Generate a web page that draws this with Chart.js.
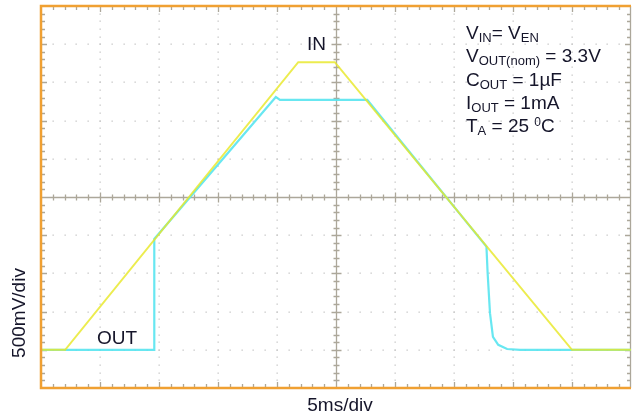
<!DOCTYPE html>
<html>
<head>
<meta charset="utf-8">
<script src="https://cdn.jsdelivr.net/npm/chart.js@4/dist/chart.umd.min.js"></script>
<style>
  html, body { margin:0; padding:0; background:#fff; }
  #wrap { width:632px; height:419px; }
</style>
</head>
<body>
<div id="wrap"><canvas id="scope" width="632" height="419"></canvas></div>
<script>
// scope trace, x in ms-divisions (0..10), y in 500mV divisions (0..10)
var inX  = [0, 0.41, 4.36, 4.98, 9.0, 10];
var inY  = [1, 1, 8.53, 8.53, 1, 1];
var outX = [0, 1.92, 1.92, 3.98, 4.05, 5.53, 7.55, 7.57, 7.61, 7.66, 7.75, 7.90, 8.12, 10];
var outY = [1, 1, 3.9, 7.62, 7.54, 7.54, 3.70, 3.01, 1.96, 1.34, 1.13, 1.02, 1.0, 1.0];
var xDivs = 10, yDivs = 10, minorPerDiv = 5;
var inLabel = 'IN', outLabel = 'OUT';
var xAxisLabel = '5ms/div', yAxisLabel = '500mV/div';
// condition text lines: [text, 'n' normal | 's' subscript | 'p' superscript]
var notes = [
  [['V','n'],['IN','s'],['= V','n'],['EN','s']],
  [['V','n'],['OUT(nom)','s'],[' = 3.3V','n']],
  [['C','n'],['OUT','s'],[' = 1\u00b5F','n']],
  [['I','n'],['OUT','s'],[' = 1mA','n']],
  [['T','n'],['A','s'],[' = 25 ','n'],['0','p'],['C','n']]
];

function pts(xs, ys){
  return xs.map(function(v, i){ return {x: v, y: ys[i]}; });
}

var FONT = '"Liberation Sans", Arial, sans-serif';
var TXT = '#15152a';

var scopeGrid = {
  id: 'scopeGrid',
  beforeDatasetsDraw: function(chart){
    var ctx = chart.ctx, a = chart.chartArea, x = chart.scales.x, y = chart.scales.y;
    var i, j, px, py;
    ctx.save();
    // dotted graticule
    ctx.fillStyle = '#c6c6c6';
    for(i = 1; i < xDivs; i++){
      if(i === xDivs/2) continue;
      px = Math.round(x.getPixelForValue(i));
      for(j = 1; j < yDivs*minorPerDiv; j++){
        py = Math.round(y.getPixelForValue(j/minorPerDiv));
        ctx.fillRect(px-0.5, py-0.5, 1.3, 1.3);
      }
    }
    for(i = 1; i < yDivs; i++){
      if(i === yDivs/2) continue;
      py = Math.round(y.getPixelForValue(i));
      for(j = 1; j < xDivs*minorPerDiv; j++){
        px = Math.round(x.getPixelForValue(j/minorPerDiv));
        ctx.fillRect(px-0.5, py-0.5, 1.3, 1.3);
      }
    }
    // centre lines with minor ticks
    var cx = Math.round(x.getPixelForValue(xDivs/2)) + 0.5;
    var cy = Math.round(y.getPixelForValue(yDivs/2)) + 0.5;
    ctx.strokeStyle = '#aca79a';
    ctx.lineWidth = 1.3;
    ctx.beginPath();
    ctx.moveTo(a.left, cy); ctx.lineTo(a.right, cy);
    ctx.moveTo(cx, a.top); ctx.lineTo(cx, a.bottom);
    for(j = 1; j < xDivs*minorPerDiv; j++){
      px = Math.round(x.getPixelForValue(j/minorPerDiv)) + 0.5;
      var l = (j % minorPerDiv === 0) ? 5 : 3;
      ctx.moveTo(px, cy-l); ctx.lineTo(px, cy+l);
      // top and bottom edge ticks
      ctx.moveTo(px, a.top); ctx.lineTo(px, a.top+l+1);
      ctx.moveTo(px, a.bottom); ctx.lineTo(px, a.bottom-l-1);
    }
    for(j = 1; j < yDivs*minorPerDiv; j++){
      py = Math.round(y.getPixelForValue(j/minorPerDiv)) + 0.5;
      var m = (j % minorPerDiv === 0) ? 5 : 3;
      ctx.moveTo(cx-m, py); ctx.lineTo(cx+m, py);
      ctx.moveTo(a.left, py); ctx.lineTo(a.left+m+1, py);
      ctx.moveTo(a.right, py); ctx.lineTo(a.right-m-1, py);
    }
    ctx.stroke();
    // right edge
    ctx.beginPath();
    ctx.moveTo(a.right-0.5, a.top); ctx.lineTo(a.right-0.5, a.bottom);
    ctx.stroke();
    ctx.restore();
  },
  afterDatasetsDraw: function(chart){
    var ctx = chart.ctx, a = chart.chartArea;
    ctx.save();
    ctx.strokeStyle = '#f0a032';
    ctx.lineWidth = 2.5;
    ctx.beginPath();
    ctx.moveTo(a.right, a.top); ctx.lineTo(a.left, a.top);
    ctx.lineTo(a.left, a.bottom); ctx.lineTo(a.right, a.bottom);
    ctx.stroke();
    ctx.restore();
  },
  afterDraw: function(chart){
    var ctx = chart.ctx;
    ctx.save();
    ctx.fillStyle = TXT;
    ctx.textBaseline = 'alphabetic';
    ctx.font = '19px ' + FONT;
    ctx.fillText(inLabel, 307, 50);
    ctx.fillText(outLabel, 97, 344);
    // conditions block
    notes.forEach(function(line, k){
      var tx = 466, base = 39 + k*23.3;
      line.forEach(function(seg){
        if(seg[1] === 'n'){ ctx.font = '19px ' + FONT; ctx.fillText(seg[0], tx, base); }
        else if(seg[1] === 's'){ ctx.font = '13px ' + FONT; ctx.fillText(seg[0], tx, base+3); }
        else { ctx.font = '12px ' + FONT; ctx.fillText(seg[0], tx, base-6); }
        tx += ctx.measureText(seg[0]).width;
      });
    });
    // axis captions
    ctx.font = '19px ' + FONT;
    ctx.textAlign = 'center';
    ctx.textBaseline = 'middle';
    ctx.fillText(xAxisLabel, 340, 406);
    ctx.translate(20, 313);
    ctx.rotate(-Math.PI/2);
    ctx.fillText(yAxisLabel, 0, 0);
    ctx.restore();
  }
};

document.addEventListener('DOMContentLoaded', function(){
  new Chart(document.getElementById('scope').getContext('2d'), {
    type: 'line',
    data: {
      datasets: [
        { label: inLabel, data: pts(inX, inY), borderColor: 'rgba(232,232,40,0.82)', borderWidth: 2, pointRadius: 0, tension: 0, order: 1 },
        { label: outLabel, data: pts(outX, outY), borderColor: 'rgba(88,228,240,0.9)', borderWidth: 2.2, pointRadius: 0, tension: 0, order: 2 }
      ]
    },
    options: {
      responsive: false,
      animation: false,
      layout: { padding: { left: 41, right: 1, top: 6, bottom: 31 } },
      plugins: { legend: { display: false }, tooltip: { enabled: false } },
      scales: {
        x: { type: 'linear', min: 0, max: xDivs, display: false },
        y: { type: 'linear', min: 0, max: yDivs, display: false }
      }
    },
    plugins: [scopeGrid]
  });
});
</script>
</body>
</html>
